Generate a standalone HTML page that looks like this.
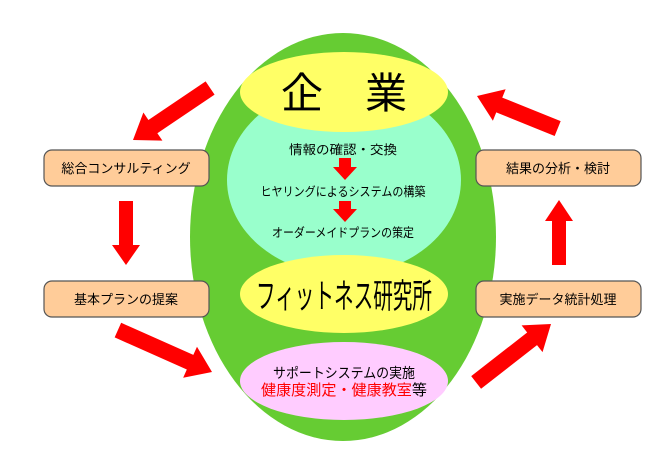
<!DOCTYPE html>
<html><head><meta charset="utf-8"><style>
html,body{margin:0;padding:0;background:#fff;}
svg{display:block;}
text{font-family:"Liberation Sans","Noto Sans CJK JP",sans-serif;}
</style></head><body>
<svg width="672" height="456" viewBox="0 0 672 456" xmlns="http://www.w3.org/2000/svg">
<ellipse cx="343" cy="237" rx="153" ry="204" fill="#66cc33"/>
<ellipse cx="344" cy="180" rx="117" ry="95" fill="#99ffcc"/>
<ellipse cx="344" cy="92" rx="104" ry="40" fill="#ffff66"/>
<ellipse cx="344" cy="294" rx="104" ry="39" fill="#ffff66"/>
<ellipse cx="344" cy="381" rx="104" ry="39" fill="#ffccff"/>
<text x="344" y="108" font-size="42" text-anchor="middle" fill="#000">企　業</text>
<text x="344" y="308" font-size="34" text-anchor="middle" fill="#000" textLength="176" lengthAdjust="spacingAndGlyphs">フィットネス研究所</text>
<g font-size="12.5" text-anchor="middle" fill="#000">
<text x="343" y="154" textLength="108" lengthAdjust="spacingAndGlyphs">情報の確認・交換</text>
<text x="343" y="196" textLength="165" lengthAdjust="spacingAndGlyphs">ヒヤリングによるシステムの構築</text>
<text x="343" y="237" textLength="142" lengthAdjust="spacingAndGlyphs">オーダーメイドプランの策定</text>
<text x="344" y="378" font-size="14" textLength="142" lengthAdjust="spacingAndGlyphs">サポートシステムの実施</text>
<text x="344" y="395" font-size="15" textLength="166" lengthAdjust="spacingAndGlyphs"><tspan fill="#ff0000">健康度測定・健康教室</tspan>等</text>
</g>
<g fill="#ff0000">
<polygon points="339,158 351,158 351,167 357,167 345,180 333,167 339,167"/>
<polygon points="339,201 351,201 351,209 357,209 345,222 333,209 339,209"/>
</g>
<g fill="#ffcc99" stroke="#555" stroke-width="1.2">
<rect x="44" y="150" width="165" height="36" rx="8"/>
<rect x="44" y="281" width="165" height="36" rx="8"/>
<rect x="476" y="150" width="165" height="36" rx="8"/>
<rect x="476" y="281" width="165" height="36" rx="8"/>
</g>
<g font-size="13" text-anchor="middle" fill="#000">
<text x="126" y="173">総合コンサルティング</text>
<text x="126" y="304">基本プランの提案</text>
<text x="558" y="173">結果の分析・検討</text>
<text x="558" y="304">実施データ統計処理</text>
</g>
<g fill="#ff0000">
<polygon transform="translate(133,140) rotate(146)" points="0,0 -24,-17 -24,-8 -93,-8 -93,8 -24,8 -24,17"/>
<polygon points="119,201 133,201 133,245 140,245 126,265 112,245 119,245"/>
<polygon transform="translate(212,372) rotate(24)" points="0,0 -24,-17 -24,-8 -103,-8 -103,8 -24,8 -24,17"/>
<polygon transform="translate(551,324) rotate(-38)" points="0,0 -24,-17 -24,-8 -95,-8 -95,8 -24,8 -24,17"/>
<polygon points="552,265 566,265 566,221 573,221 559,200 545,221 552,221"/>
<polygon transform="translate(477,96) rotate(202)" points="0,0 -24,-17 -24,-8 -87,-8 -87,8 -24,8 -24,17"/>
</g>
</svg>
</body></html>
